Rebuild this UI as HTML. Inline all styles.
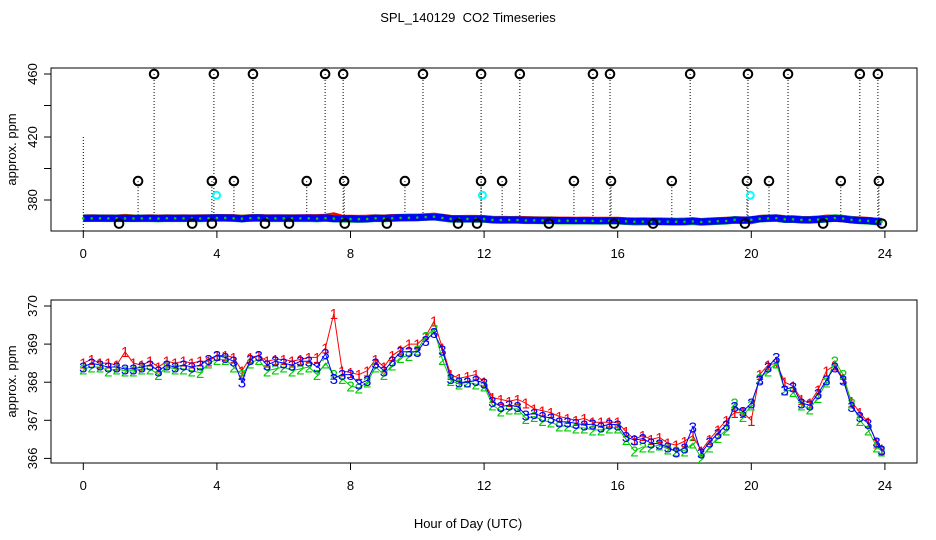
<!DOCTYPE html>
<html><head><meta charset="utf-8"><style>
html,body{margin:0;padding:0;background:#fff;}
svg{display:block;font-family:"Liberation Sans",Helvetica,Arial,sans-serif;}
</style></head><body>
<svg id="chart" width="936" height="540" viewBox="0 0 936 540">
<rect width="936" height="540" fill="#fff"/>
<text x="468" y="22" font-size="13" text-anchor="middle">SPL_140129&#160; CO2 Timeseries</text>
<text x="468" y="528" font-size="13" text-anchor="middle">Hour of Day (UTC)</text>
<g id="top"></g>
<g id="bot"></g>
</svg>
<script>
const s3 = [368.4,368.5,368.45,368.4,368.4,368.35,368.35,368.4,368.45,368.3,368.45,368.4,368.45,368.4,368.45,368.6,
368.7,368.65,368.55,368.0,368.6,368.7,368.45,368.55,368.5,368.45,368.55,368.55,368.4,368.75,368.1,368.2,
368.2,367.95,368.05,368.5,368.3,368.55,368.8,368.8,368.8,369.1,369.3,368.85,368.1,368.0,368.0,368.05,
367.98,367.49,367.36,367.4,367.36,367.14,367.18,367.1,367.06,366.96,366.96,366.92,366.88,366.9,366.83,366.9,
366.88,366.57,366.48,366.52,366.4,366.38,366.3,366.17,366.27,366.83,366.14,366.43,366.66,366.88,367.36,367.23,
367.45,368.06,368.4,368.65,367.8,367.88,367.45,367.4,367.7,368.06,368.4,368.06,367.36,367.1,366.92,366.43,366.22];
const s2 = [368.35,368.4,368.4,368.3,368.35,368.3,368.3,368.35,368.35,368.2,368.4,368.35,368.35,368.3,368.25,368.5,
368.6,368.6,368.4,368.2,368.5,368.6,368.3,368.35,368.4,368.3,368.35,368.4,368.2,368.5,368.2,368.1,
367.9,367.85,368.0,368.4,368.2,368.45,368.65,368.7,368.85,369.2,369.4,368.6,368.05,367.95,368.0,367.95,
367.9,367.4,367.25,367.3,367.3,367.05,367.1,367.0,366.95,366.85,366.85,366.8,366.8,366.75,366.75,366.8,
366.8,366.5,366.2,366.3,366.3,366.35,366.25,366.2,366.2,366.4,366.0,366.3,366.55,366.75,367.45,367.1,
367.4,368.1,368.3,368.5,367.8,367.75,367.4,367.3,367.6,368.0,368.55,368.2,367.45,367.0,366.75,366.3,366.2];
const s1 = [368.5,368.6,368.5,368.5,368.45,368.8,368.5,368.45,368.55,368.4,368.55,368.5,368.55,368.5,368.55,368.55,
368.7,368.7,368.65,368.3,368.65,368.7,368.55,368.6,368.6,368.55,368.6,368.65,368.65,368.9,369.8,368.3,
368.25,368.2,368.3,368.6,368.4,368.7,368.85,369.0,369.0,369.2,369.6,368.9,368.2,368.1,368.15,368.2,
368.0,367.6,367.55,367.5,367.55,367.45,367.3,367.25,367.2,367.1,367.05,367.0,367.05,366.95,366.95,366.95,
366.95,366.7,366.5,366.6,366.5,366.55,366.4,366.35,366.45,366.6,366.2,366.5,366.75,367.0,367.2,367.2,
367.0,368.2,368.45,368.5,368.0,367.9,367.55,367.45,367.8,368.3,368.45,368.1,367.5,367.2,366.95,366.4,366.25];
const hours = [];
for (let i = 0; i < 96; i++) hours.push(i * 0.25);
hours.push(23.9);
const highHours = [2.12,3.91,5.08,7.24,7.78,10.17,11.91,13.07,15.26,15.77,18.17,19.9,21.1,23.25,23.79];
const highValue = 460;
const midHours = [1.64,3.85,4.51,6.69,7.81,9.63,11.91,12.54,14.69,15.8,17.62,19.87,20.53,22.68,23.82];
const midValue = 392;
const lowHours = [1.07,3.26,3.85,5.44,6.16,7.83,9.09,11.22,11.79,13.94,15.89,17.06,19.81,22.15,23.91];
const lowValue = 365;
const cyanHours = [3.99,11.95,19.97];
const cyanValue = 383;
const xTicks = [0,4,8,12,16,20,24];
const topYTicks = [380,400,420,440,460];
const topYLabels = [380,420,460];
const botYTicks = [366,367,368,369,370];

const NS = 'http://www.w3.org/2000/svg';
function mk(parent, tag, attrs, txt) {
  const e = document.createElementNS(NS, tag);
  for (const k in attrs) e.setAttribute(k, attrs[k]);
  if (txt !== undefined) e.textContent = txt;
  parent.appendChild(e);
  return e;
}
const X0 = 51, X1 = 917;
const xs = h => 83.3 + h * 33.4;
const yTop = v => 200 - (v - 380) * (63 / 40);
const yBot = v => 306 + (370 - v) * 38.1;

function axes(g, top, bottom, yscale, ticks, labels, name) {
  const box = mk(g, 'rect', {x: X0, y: top, width: X1 - X0, height: bottom - top, fill: 'none', stroke: '#000', 'stroke-width': 1});
  
  
  xTicks.forEach(t => {
    mk(g, 'line', {x1: xs(t), x2: xs(t), y1: bottom, y2: bottom + 7, stroke: '#000'});
    const tl = mk(g, 'text', {x: xs(t), y: bottom + 27, 'font-size': 13, 'text-anchor': 'middle'}, t);
    
    
  });
  ticks.forEach(t => {
    mk(g, 'line', {x1: X0 - 7, x2: X0, y1: yscale(t), y2: yscale(t), stroke: '#000'});
  });
  labels.forEach(t => {
    const tl = mk(g, 'text', {x: 0, y: 0, 'font-size': 13, 'text-anchor': 'middle', transform: 'translate(37,' + yscale(t) + ') rotate(-90)'}, t);
    
    
  });
  const yl = mk(g, 'text', {x: 0, y: 0, 'font-size': 13, 'text-anchor': 'middle', transform: 'translate(16,' + ((top + bottom) / 2) + ') rotate(-90)'}, 'approx. ppm');
  
  
}

// TOP PANEL
const gt = document.getElementById('top');
axes(gt, 68, 231, yTop, topYTicks, topYLabels, 'top');
highHours.concat(midHours).forEach((h, i) => {
  const v = i < highHours.length ? highValue : midValue;
  const l = mk(gt, 'line', {x1: xs(h), x2: xs(h), y1: yTop(v), y2: 218, stroke: '#000', 'stroke-dasharray': '1,2'});
  
  
});
mk(gt, 'line', {x1: xs(0), x2: xs(0), y1: yTop(420), y2: 231, stroke: '#000', 'stroke-dasharray': '1,2'});
[[s1, '#f00'], [s2, '#0c0'], [s3, '#00f']].forEach(([s, c], k) => {
  const pts = s.map((v, i) => xs(hours[i]) + ',' + yTop(v)).join(' ');
  const pl = mk(gt, 'polyline', {points: pts, fill: 'none', stroke: c, 'stroke-width': k === 2 ? 7 : 7.5});
  
  
});
s2.forEach((v, i) => {
  const d = mk(gt, 'circle', {cx: xs(hours[i]), cy: yTop(v), r: 1.3, fill: '#0c0'});
  
  
});
function blackPts(arr, val) {
  arr.forEach(h => {
    const c = mk(gt, 'circle', {cx: xs(h), cy: yTop(val), r: 4.3, fill: 'none', stroke: '#000', 'stroke-width': 2});
    
    
  });
}
blackPts(highHours, highValue);
blackPts(midHours, midValue);
blackPts(lowHours, lowValue);
cyanHours.forEach(h => {
  const c = mk(gt, 'circle', {cx: xs(h), cy: yTop(cyanValue), r: 3.5, fill: 'none', stroke: '#0ff', 'stroke-width': 2});
  
  
});

// BOTTOM PANEL
const gb = document.getElementById('bot');
axes(gb, 300, 463, yBot, botYTicks, botYTicks, 'bottom');
[[s1, '#f00', '1'], [s2, '#0c0', '2'], [s3, '#00f', '3']].forEach(([s, c, lab], k) => {
  const pts = s.map((v, i) => xs(hours[i]) + ',' + yBot(v)).join(' ');
  const pl = mk(gb, 'polyline', {points: pts, fill: 'none', stroke: c, 'stroke-width': 1});
  
  
  s.forEach((v, i) => {
    const t = mk(gb, 'text', {x: xs(hours[i]), y: yBot(v) + 5.5, fill: c, 'font-size': 15, 'text-anchor': 'middle'}, lab);
    
    
  });
});
</script>
</body></html>
